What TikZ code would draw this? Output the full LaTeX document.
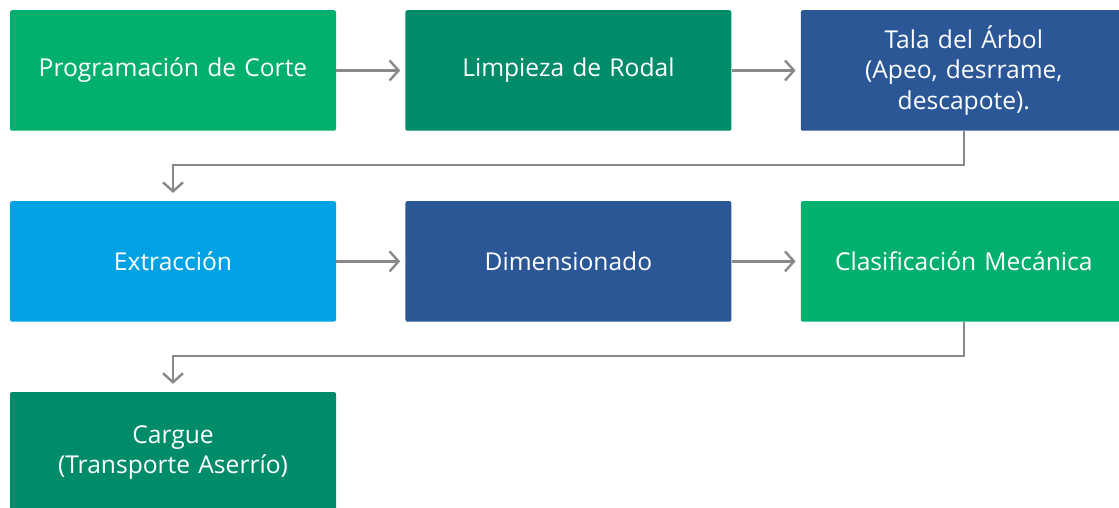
\documentclass[tikz,border=0pt]{standalone}
\usepackage{fontspec}
\setmainfont{Open Sans}
\usetikzlibrary{arrows.meta,positioning}
\definecolor{verde}{HTML}{00B06C}
\definecolor{verdeosc}{HTML}{008C69}
\definecolor{azul}{HTML}{2B5797}
\definecolor{celeste}{HTML}{00A2E3}
\definecolor{flecha}{HTML}{898989}
\tikzset{etapa/.style={rectangle,rounded corners=2pt,minimum width=326pt,minimum height=120.5pt,
    text width=310pt,align=center,text=white,font=\fontsize{24.6}{30.5}\selectfont,inner sep=0pt},
  paso/.style={draw=flecha,line width=2.4pt,-{Straight Barb[length=9pt,width=20pt]}}}

\begin{document}
\begin{tikzpicture}[x=1pt,y=1pt,node distance=70pt and 69pt]
    \clip (0,0) rectangle (1119,-508);
    \node[etapa,fill=verde] (prog) at (173,-70.5) {Programación de Corte};
    \node[etapa,fill=verdeosc,right=of prog] (limp) {Limpieza de Rodal};
    \node[etapa,fill=azul,right=of limp] (tala) {Tala del Árbol\\(Apeo, desrrame,\\descapote).};
    \node[etapa,fill=celeste,below=of prog] (extr) {Extracción};
    \node[etapa,fill=azul,right=of extr] (dime) {Dimensionado};
    \node[etapa,fill=verde,right=of dime] (clas) {Clasificación Mecánica};
    \node[etapa,fill=verdeosc,below=of extr] (carg) {Cargue\\(Transporte Aserrío)};
    % flechas
    \draw[paso,shorten >=5pt] (prog) -- (limp);
    \draw[paso,shorten >=5pt] (limp) -- (tala);
    \draw[paso,shorten >=8pt] (tala.south) -- ++(0,-34) -| (extr.north);
    \draw[paso,shorten >=5pt] (extr) -- (dime);
    \draw[paso,shorten >=5pt] (dime) -- (clas);
    \draw[paso,shorten >=8pt] (clas.south) -- ++(0,-34) -| (carg.north);
\end{tikzpicture}
\end{document}
